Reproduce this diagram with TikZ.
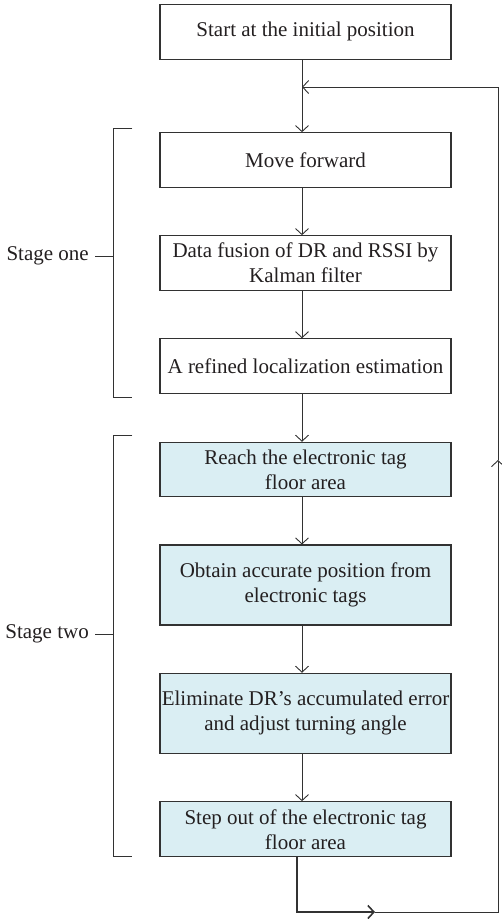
\documentclass[tikz,border=0pt]{standalone}
\usepackage{fontspec}
\setmainfont{Liberation Serif}
\usetikzlibrary{arrows.meta}
\definecolor{boxblue}{RGB}{218,238,243}
\definecolor{linegray}{RGB}{50,50,50}
\definecolor{txt}{RGB}{35,31,32}
\tikzset{
  box/.style={draw=linegray, line width=1.1pt, text=txt, minimum width=291pt,
    inner xsep=0pt, inner ysep=0pt, align=center, font=\fontsize{21}{25}\selectfont},
  bluebox/.style={box, fill=boxblue},
  conn/.style={draw=linegray, line width=0.9pt},
  arr/.style={conn, -{Straight Barb[length=6pt,width=13pt]}},
  stagelabel/.style={anchor=east, inner sep=0pt, text=txt, font=\fontsize{21}{25}\selectfont},
}
\begin{document}
\begin{tikzpicture}[x=1pt,y=-1pt]
\useasboundingbox (0,0) rectangle (502,919);
\coordinate (ax) at (302,0);
\node[box, minimum height=55pt] (start) at (305.5,31.8) {Start at the initial position};
\node[box, minimum height=55pt] (move) at (305.5,160.2) {Move forward};
\node[box, minimum height=55pt] (fusion) at (305.5,263.2) {Data fusion of DR and RSSI by\\Kalman filter};
\node[box, minimum height=55pt] (refined) at (305.5,366.3) {A refined localization estimation};
\node[bluebox, minimum height=54.4pt] (reach) at (305.5,469.5) {Reach the electronic tag\\floor area};
\node[bluebox, minimum height=80pt] (obtain) at (305.5,585) {Obtain accurate position from\\electronic tags};
\node[bluebox, minimum height=80pt] (elim) at (305.5,713.3) {Eliminate DR’s accumulated error\\and adjust turning angle};
\node[bluebox, minimum height=55pt] (stepout) at (305.5,829.2) {Step out of the electronic tag\\floor area};

\draw[arr] (start.south -| ax) -- (move.north -| ax);
\draw[arr] (move.south -| ax) -- (fusion.north -| ax);
\draw[arr] (fusion.south -| ax) -- (refined.north -| ax);
\draw[arr] (refined.south -| ax) -- (reach.north -| ax);
\draw[arr] (reach.south -| ax) -- (obtain.north -| ax);
\draw[arr] (obtain.south -| ax) -- (elim.north -| ax);
\draw[arr] (elim.south -| ax) -- (stepout.north -| ax);

% feedback loop
\coordinate (b1) at (297,912);
\coordinate (bm) at (375,912);
\coordinate (b2) at (498,912);
\coordinate (rm) at (498,460);
\coordinate (t2) at (498,87);
\coordinate (t1) at (302,87);
\draw[arr, line width=1.6pt] (stepout.south -| b1) -- (b1) -- (bm);
\draw[arr] (bm) -- (b2) -- (rm);
\draw[arr] (rm) -- (t2) -- (t1);

% stage brackets
\node[stagelabel] (s1) at (89,256) {Stage one};
\draw[conn] (132.3,128.3) -- (113.7,128.3) -- (113.7,397.7) -- (132.3,397.7);
\draw[conn] ([xshift=6pt]s1.east) -- (113.7,256);
\node[stagelabel] (s2) at (89,634) {Stage two};
\draw[conn] (132.3,435.3) -- (113.7,435.3) -- (113.7,856) -- (132.3,856);
\draw[conn] ([xshift=6pt]s2.east) -- (113.7,634);
\end{tikzpicture}
\end{document}
